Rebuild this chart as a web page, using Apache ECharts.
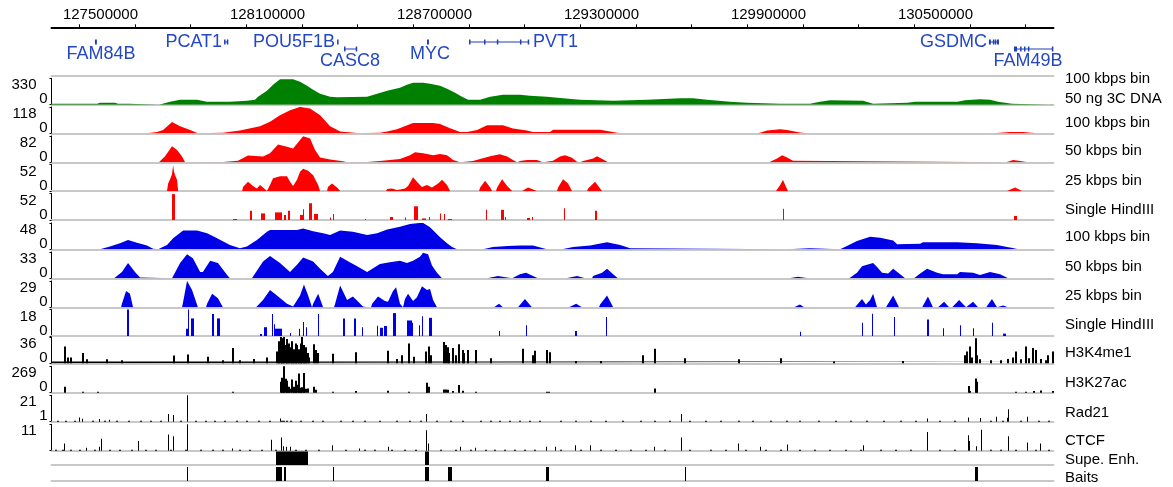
<!DOCTYPE html>
<html><head><meta charset="utf-8">
<script src="https://cdn.jsdelivr.net/npm/echarts@6/dist/echarts.min.js"></script>
<style>html,body{margin:0;padding:0;background:#fff}#c{width:1173px;height:487px}</style>
</head><body><div id="c"></div><script>
// ---------------- DATA (genomic positions in Mb) ----------------
const X_MIN = 127.2, X_MAX = 130.8;
const majorTicks = [127.5, 128.1, 128.7, 129.3, 129.9, 130.5];
const minorTicks = [127.3,127.5,127.7,127.9,128.1,128.3,128.5,128.7,128.9,129.1,129.3,129.5,129.7,129.9,130.1,130.3,130.5,130.7];

const geneNames = ['FAM84B','PCAT1','POU5F1B','CASC8','MYC','PVT1','GSDMC','FAM49B'];
const geneSpans = [[127.356,127.363],[127.820,127.831],[128.226,128.228],[128.251,128.294],[128.549,128.556],[128.700,128.912],[130.568,130.604],[130.658,130.795]];
const geneExons = [
  [[127.356,127.363]],
  [[127.820,127.821],[127.830,127.831]],
  [[128.226,128.228]],
  [[128.251,128.252],[128.293,128.294]],
  [[128.549,128.556]],
  [[128.700,128.701],[128.754,128.755],[128.800,128.803],[128.883,128.884],[128.911,128.912]],
  [[130.568,130.575],[130.582,130.584],[130.589,130.591],[130.597,130.604]],
  [[130.658,130.669],[130.680,130.681],[130.694,130.695],[130.708,130.709],[130.794,130.795]]
];

const trackMax = [330,118,82,52,52,48,33,29,18,36,269,21,11];
const trackMin = [0,0,0,0,0,0,0,0,0,0,0,1,0];
const trackNames = ['100 kbps bin','50 ng 3C DNA','100 kbps bin','50 kbps bin','25 kbps bin','Single HindIII','100 kbps bin','50 kbps bin','25 kbps bin','Single HindIII','H3K4me1','H3K27ac','Rad21','CTCF','Supe. Enh.','Baits'];

const green3C = [[127.198,12],[127.364,12],[127.374,25],[127.428,25],[127.439,12],[127.480,12],[127.482,0],[127.586,0],[127.590,12],[127.626,38],[127.662,62],[127.723,62],[127.759,38],[127.841,38],[127.902,50],[127.931,62],[127.942,100],[127.974,175],[127.996,250],[128.021,318],[128.068,318],[128.093,288],[128.118,238],[128.140,188],[128.165,138],[128.201,100],[128.226,92],[128.334,100],[128.370,138],[128.406,175],[128.452,212],[128.477,250],[128.499,275],[128.535,275],[128.560,262],[128.596,238],[128.621,200],[128.650,150],[128.675,100],[128.697,62],[128.740,62],[128.776,100],[128.822,125],[128.883,125],[128.919,112],[128.980,100],[129.038,81],[129.099,62],[129.218,50],[129.340,62],[129.458,81],[129.505,81],[129.555,62],[129.638,38],[129.699,25],[129.818,12],[129.925,12],[129.961,38],[129.997,56],[130.116,50],[130.152,12],[130.274,25],[130.303,38],[130.454,38],[130.482,56],[130.536,69],[130.572,62],[130.601,38],[130.651,12],[130.655,0],[130.786,0],[130.790,12],[130.800,12]];

const red100 = [[127.543,0],[127.579,6],[127.601,15],[127.633,50],[127.662,32],[127.698,15],[127.726,0],[127.816,2],[127.877,12],[127.949,32],[127.985,52],[128.021,81],[128.057,103],[128.093,118],[128.129,111],[128.165,81],[128.201,32],[128.237,8],[128.308,0],[128.334,1],[128.380,3],[128.406,8],[128.441,18],[128.499,46],[128.571,46],[128.596,42],[128.632,23],[128.668,6],[128.693,6],[128.729,15],[128.765,36],[128.822,36],[128.858,22],[128.908,13],[128.930,6],[128.991,6],[129.002,16],[129.171,16],[129.196,10],[129.243,0],[129.739,0],[129.771,12],[129.818,18],[129.843,15],[129.889,4],[129.915,0],[130.583,0],[130.644,6],[130.690,6],[130.741,0]];

const red50 = [[127.586,0],[127.590,2],[127.608,19],[127.633,50],[127.651,38],[127.669,18],[127.680,0],[127.816,1],[127.870,5],[127.906,21],[127.960,18],[127.985,28],[128.014,55],[128.046,48],[128.068,43],[128.093,69],[128.104,81],[128.129,74],[128.147,38],[128.165,15],[128.201,9],[128.247,3],[128.262,0],[128.334,1],[128.380,4],[128.416,7],[128.452,10],[128.488,22],[128.506,31],[128.535,28],[128.571,22],[128.596,26],[128.621,22],[128.643,7],[128.668,0],[128.714,4],[128.740,10],[128.776,19],[128.811,25],[128.837,18],[128.858,7],[128.873,0],[128.883,4],[128.908,7],[128.944,7],[128.966,0],[129.002,5],[129.027,18],[129.045,22],[129.070,14],[129.088,2],[129.099,0],[129.110,4],[129.146,12],[129.160,19],[129.182,9],[129.200,0],[129.778,0],[129.782,5],[129.807,12],[129.825,22],[129.843,15],[129.864,5],[129.871,0],[130.630,0],[130.633,4],[130.655,7],[130.680,4],[130.709,0]];

const red25 = [[127.615,0],[127.619,15],[127.626,23],[127.633,33],[127.637,51],[127.640,39],[127.644,31],[127.651,22],[127.655,0],[127.885,0],[127.888,8],[127.906,18],[127.924,10],[127.938,5],[127.949,12],[127.960,7],[127.974,0],[127.985,12],[127.996,25],[128.021,29],[128.046,29],[128.057,18],[128.068,10],[128.082,22],[128.093,38],[128.104,44],[128.122,40],[128.140,31],[128.158,12],[128.165,0],[128.190,0],[128.193,8],[128.208,15],[128.226,7],[128.237,0],[128.402,0],[128.406,4],[128.423,5],[128.441,2],[128.452,3],[128.470,5],[128.481,10],[128.499,27],[128.513,18],[128.531,8],[128.549,12],[128.567,7],[128.589,15],[128.603,22],[128.621,12],[128.632,0],[128.736,0],[128.740,7],[128.758,20],[128.776,7],[128.783,0],[128.797,0],[128.801,7],[128.819,23],[128.837,10],[128.855,0],[128.891,0],[128.894,2],[128.912,7],[128.944,0],[129.016,0],[129.020,7],[129.038,23],[129.056,15],[129.070,0],[129.124,0],[129.128,5],[129.153,18],[129.171,5],[129.178,0],[129.803,0],[129.807,2],[129.818,12],[129.828,22],[129.836,12],[129.846,0],[130.633,0],[130.662,7],[130.687,0]];

const redSingle = [[127.633,127.644,51],[127.852,127.866,2],[127.913,127.920,18],[127.953,127.967,13],[128.003,128.028,15],[128.035,128.043,10],[128.050,128.057,18],[128.093,128.104,10],[128.104,128.107,21],[128.125,128.136,33],[128.143,128.158,12],[128.201,128.204,5],[128.211,128.215,12],[128.326,128.330,2],[128.416,128.427,6],[128.470,128.474,5],[128.502,128.517,27],[128.531,128.546,3],[128.556,128.560,6],[128.596,128.600,13],[128.610,128.614,12],[128.625,128.639,2],[128.761,128.765,20],[128.815,128.826,20],[128.829,128.833,6],[128.908,128.919,4],[128.926,128.930,6],[129.041,129.045,23],[129.153,129.160,18],[129.828,129.832,22],[130.658,130.669,8]];

const blue100 = [[127.374,0],[127.410,5],[127.446,11],[127.475,17],[127.507,12],[127.543,7],[127.565,1],[127.583,0],[127.590,1],[127.615,8],[127.637,20],[127.673,34],[127.723,34],[127.759,29],[127.795,20],[127.841,8],[127.877,2],[127.902,5],[127.938,17],[127.974,32],[127.985,35],[128.082,35],[128.104,38],[128.140,33],[128.176,29],[128.201,26],[128.237,34],[128.283,32],[128.334,26],[128.370,29],[128.406,36],[128.452,41],[128.488,46],[128.524,48],[128.535,48],[128.560,40],[128.578,31],[128.596,22],[128.621,11],[128.639,4],[128.657,0],[128.750,0],[128.754,1],[128.786,4],[128.840,6],[128.883,7],[128.930,7],[128.980,0],[129.034,0],[129.074,4],[129.135,7],[129.196,13],[129.243,8],[129.279,2],[129.286,0],[129.843,0],[129.846,2],[129.925,2],[129.929,0],[130.033,0],[130.058,6],[130.094,15],[130.141,23],[130.177,21],[130.224,16],[130.238,9],[130.321,10],[130.331,13],[130.453,13],[130.525,11],[130.597,8],[130.633,4],[130.669,1],[130.673,0]];

const blue50 = [[127.425,0],[127.428,1],[127.453,8],[127.475,19],[127.500,8],[127.518,1],[127.522,0],[127.633,0],[127.637,2],[127.662,19],[127.687,30],[127.708,25],[127.734,8],[127.744,8],[127.770,22],[127.798,19],[127.831,4],[127.841,0],[127.920,0],[127.924,2],[127.960,21],[127.985,28],[128.021,19],[128.057,8],[128.082,17],[128.104,26],[128.140,21],[128.165,12],[128.193,3],[128.211,8],[128.237,27],[128.262,22],[128.298,15],[128.334,8],[128.380,18],[128.416,20],[128.452,22],[128.477,19],[128.499,22],[128.524,27],[128.535,32],[128.553,30],[128.567,16],[128.585,7],[128.603,0],[128.765,0],[128.768,1],[128.804,3],[128.837,1],[128.840,0],[128.855,0],[128.858,2],[128.883,5],[128.905,7],[128.930,3],[128.948,0],[129.049,0],[129.052,1],[129.088,3],[129.117,0],[129.142,0],[129.146,3],[129.178,7],[129.196,12],[129.218,5],[129.235,0],[129.850,0],[129.853,1],[129.882,2],[129.918,0],[130.066,0],[130.069,1],[130.094,7],[130.112,15],[130.130,17],[130.152,19],[130.166,14],[130.184,7],[130.206,6],[130.224,12],[130.249,5],[130.267,0],[130.299,0],[130.303,1],[130.321,6],[130.346,12],[130.382,7],[130.403,5],[130.454,5],[130.464,8],[130.511,7],[130.536,4],[130.572,8],[130.608,5],[130.637,0]];

const blue25 = [[127.450,0],[127.453,4],[127.468,18],[127.482,15],[127.493,0],[127.669,0],[127.673,6],[127.687,29],[127.705,19],[127.726,0],[127.755,0],[127.759,4],[127.777,15],[127.798,10],[127.816,0],[127.935,0],[127.938,1],[127.960,8],[127.985,19],[128.010,13],[128.046,4],[128.068,1],[128.093,13],[128.107,25],[128.122,13],[128.136,0],[128.140,4],[128.158,15],[128.176,0],[128.215,0],[128.219,4],[128.237,24],[128.262,8],[128.283,12],[128.319,1],[128.334,0],[128.348,0],[128.352,4],[128.373,12],[128.380,10],[128.398,7],[128.409,6],[128.427,18],[128.438,22],[128.452,4],[128.463,0],[128.467,0],[128.470,9],[128.481,15],[128.499,7],[128.513,11],[128.531,23],[128.549,19],[128.560,20],[128.571,8],[128.585,0],[128.790,0],[128.793,2],[128.808,4],[128.822,0],[128.876,0],[128.880,2],[128.901,9],[128.926,0],[129.059,0],[129.063,2],[129.085,4],[129.106,0],[129.167,0],[129.171,3],[129.196,13],[129.218,0],[129.868,0],[129.889,3],[129.904,0],[130.087,0],[130.091,1],[130.112,9],[130.126,3],[130.141,8],[130.152,15],[130.166,0],[130.198,0],[130.202,1],[130.224,13],[130.245,0],[130.328,0],[130.331,2],[130.349,12],[130.367,0],[130.385,0],[130.389,1],[130.407,6],[130.425,0],[130.436,0],[130.439,2],[130.461,8],[130.486,0],[130.489,0],[130.511,6],[130.529,0],[130.558,0],[130.561,2],[130.579,9],[130.597,0],[130.601,0],[130.619,2],[130.637,0]];

const blueSingle = [[127.471,127.478,18],[127.683,127.690,5],[127.690,127.694,18],[127.701,127.712,12],[127.777,127.784,15],[127.795,127.805,12],[127.949,127.956,1.4],[127.963,127.974,6],[127.992,127.996,15],[127.999,128.003,8],[128.003,128.028,5],[128.057,128.061,2],[128.089,128.093,5],[128.104,128.107,9.5],[128.114,128.118,6],[128.158,128.161,15],[128.247,128.255,12],[128.287,128.294,12],[128.316,128.319,6],[128.370,128.373,7],[128.380,128.391,5.6],[128.395,128.406,6.8],[128.427,128.438,15.6],[128.477,128.495,10.6],[128.495,128.499,9],[128.520,128.524,7.4],[128.531,128.535,13.5],[128.556,128.567,12.4],[128.808,128.811,3.4],[128.905,128.908,7.4],[129.081,129.088,3.4],[129.192,129.196,12.9],[129.889,129.893,2.9],[130.112,130.116,9],[130.148,130.152,15.1],[130.227,130.231,12.9],[130.346,130.353,11.3],[130.403,130.407,5.2],[130.464,130.468,7.4],[130.511,130.515,5.2],[130.579,130.583,9],[130.619,130.630,1.6]];

const h3k4me1Floor = [[127.2,2.4],[130.8,2.4]];
const h3k4me1 = [[127.245,23],[127.256,8],[127.267,8],[127.313,14],[127.324,5.5],[127.399,5.5],[127.453,4],[127.637,10.5],[127.690,12],[127.759,9],[127.813,4],[127.849,21],[127.877,4],[127.924,6],[127.974,8],[128.010,16],[128.014,25],[128.017,30],[128.021,36],[128.025,27],[128.028,34],[128.032,21],[128.035,36],[128.039,25],[128.043,33],[128.046,16],[128.050,27],[128.053,14],[128.057,22],[128.061,11],[128.064,30],[128.068,19],[128.071,16],[128.075,27],[128.078,12],[128.082,25],[128.086,11],[128.089,19],[128.093,14],[128.096,27],[128.100,36],[128.104,16],[128.107,25],[128.111,10],[128.114,22],[128.118,14],[128.122,8],[128.140,26],[128.147,18],[128.154,14],[128.211,13],[128.291,15],[128.406,17],[128.441,6],[128.459,11],[128.481,27],[128.499,9],[128.542,16],[128.553,23],[128.560,11],[128.607,29],[128.614,25],[128.621,22],[128.628,14],[128.639,21],[128.650,11],[128.664,26],[128.675,18],[128.682,14],[128.693,18],[128.722,18],[128.776,7],[128.891,20],[128.927,11],[128.937,17],[128.980,18],[128.991,15],[129.081,3],[129.171,3],[129.325,11],[129.365,20],[129.476,7],[129.667,5.5],[129.818,7],[130.008,2.5],[130.259,3],[130.482,11],[130.489,16],[130.497,23],[130.507,8],[130.518,34],[130.525,11],[130.533,5.5],[130.572,4],[130.608,4],[130.633,6],[130.651,8],[130.662,16],[130.680,5.5],[130.698,23],[130.709,7],[130.723,21],[130.734,18],[130.752,6],[130.770,4],[130.780,11],[130.795,16]];

const h3k27ac = [[127.245,61],[127.313,10],[127.367,10],[127.849,10],[128.021,111],[128.025,80],[128.028,152],[128.032,101],[128.035,269],[128.039,141],[128.043,91],[128.046,121],[128.050,60],[128.053,50],[128.057,40],[128.064,134],[128.068,61],[128.071,45],[128.075,121],[128.078,50],[128.082,80],[128.086,195],[128.089,70],[128.093,50],[128.096,35],[128.100,55],[128.104,202],[128.107,90],[128.111,40],[128.118,43],[128.140,61],[128.147,30],[128.211,10],[128.291,17],[128.406,20],[128.481,10],[128.546,101],[128.549,81],[128.553,61],[128.607,33],[128.614,33],[128.621,30],[128.639,17],[128.664,78],[128.675,20],[128.722,10],[128.980,10],[128.987,10],[129.365,43],[130.493,68],[130.500,17],[130.518,144],[130.522,111],[130.662,10],[130.698,10],[130.727,17],[130.752,23],[130.795,17]];

const rad21 = [[127.302,4.2],[127.313,3.3],[127.374,3],[127.410,2.5],[127.619,6.8],[127.637,6],[127.690,21],[128.021,3.5],[128.546,6.8],[129.465,6.8],[130.346,3.5],[130.493,4.2],[130.536,3.8],[130.594,4.8],[130.633,4],[130.637,10.5],[130.705,4.8]];
const rad21Dots = [127.223,127.252,127.284,127.346,127.389,127.435,127.475,127.518,127.554,127.590,127.662,127.719,127.755,127.784,127.820,127.863,127.899,127.942,127.985,128.028,128.035,128.043,128.057,128.093,128.136,128.172,128.237,128.280,128.323,128.380,128.438,128.488,128.524,128.582,128.632,128.675,128.740,128.776,128.811,128.847,128.883,128.919,128.955,129.027,129.081,129.135,129.189,129.250,129.315,129.368,129.422,129.494,129.548,129.602,129.667,129.717,129.782,129.839,129.889,129.954,130.015,130.069,130.127,130.191,130.249,130.303,130.392,130.446,130.572,130.615,130.680,130.745,130.781];
const rad21DotValue = 1.7;

const ctcf = [[127.245,3],[127.324,1.2],[127.371,1.6],[127.381,5],[127.511,4],[127.619,6.8],[127.637,6],[127.690,11],[127.852,0.9],[127.992,4.6],[128.028,5.5],[128.032,1.9],[128.046,1.6],[128.057,1.6],[128.211,2.3],[128.308,0.9],[128.409,1.6],[128.546,8.5],[128.553,3],[128.668,1.6],[128.725,1.2],[128.980,1.6],[129.009,1.6],[129.081,2.3],[129.135,2.3],[129.365,1.6],[129.465,5.5],[129.670,3],[129.746,1.6],[129.846,2.6],[130.116,2.3],[130.346,7.8],[130.493,6.4],[130.500,4],[130.522,1.9],[130.540,8.7],[130.637,6],[130.705,3.4],[130.755,3]];
const ctcfDots = [127.213,127.238,127.267,127.302,127.356,127.410,127.446,127.489,127.536,127.572,127.626,127.680,127.734,127.777,127.813,127.877,127.913,127.956,128.003,128.075,128.111,128.158,128.255,128.326,128.362,128.423,128.470,128.506,128.596,128.650,128.704,128.758,128.793,128.829,128.865,128.901,128.937,129.027,129.099,129.171,129.225,129.279,129.333,129.404,129.494,129.566,129.620,129.692,129.764,129.818,129.889,129.943,129.997,130.051,130.105,130.177,130.231,130.285,130.392,130.446,130.572,130.608,130.662,130.734,130.781];
const ctcfDotValue = 0.35;

const superEnhancers = [[128.007,128.122],[128.542,128.556]];
const baits = [[127.687,127.690],[128.007,128.028],[128.035,128.043],[128.211,128.215],[128.542,128.556],[128.625,128.639],[128.977,128.987],[129.476,129.479],[130.518,130.529]];

// ---------------- LAYOUT / STYLE ----------------
const FONT = '"Liberation Sans", Arial, Helvetica, sans-serif';
const GENE_COLOR = '#1d3fb8';
const GENE_TEXT = '#2447c4';
const GRAY = '#c8c8c8';
const RED = '#ff0000', BLUE = '#0000e6', GREEN = '#008000', BLACK = '#000000';
const LEFT = 51.5, WIDTH = 1002;
const trackBottom = [104.7,133.3,162.3,191,220,249.3,278.3,307.3,336,363.3,392.7,421.7,450.7,465,481];
const trackHeight = [26.4,26.4,26.4,26.4,26.4,26.4,26.4,26.4,26.4,26.4,26.4,26.4,26.4,13.5,14];
const trackNameY = [79,99.3,122.7,150.7,180.7,210,237.3,266.7,296,325,353.3,382.7,413.3,440.7,460,478.3];
const geneRow = [1,1,1,2,1,1,1,2];
const geneLabelSide = ['below','left','left','below','below','right','left','below'];
const geneLabelDx = [5,0,0,0,2,0,0,-5];
const EXON_H = 5;

// ---------------- BUILD ----------------
const grids = [{left: LEFT, width: WIDTH, top: 27.3, height: 48.7}];
trackBottom.forEach((b, k) => grids.push({left: LEFT, width: WIDTH, top: b - trackHeight[k], height: trackHeight[k]}));

const xAxes = [
  {gridIndex: 0, type: 'value', min: X_MIN, max: X_MAX, position: 'top',
   axisLine: {show: true, onZero: false, lineStyle: {color: BLACK, width: 2}},
   axisTick: {show: true, customValues: minorTicks, length: 3, inside: false, lineStyle: {color: BLACK, width: 1}},
   axisLabel: {show: true, customValues: majorTicks, formatter: v => '{l|' + String(Math.round(v * 1e6)) + '}',
               color: BLACK, fontSize: 15, fontFamily: FONT, margin: 5, align: 'right',
               rich: {l: {fontSize: 15, fontFamily: FONT, color: BLACK, padding: [0, -3, 0, 0]}}},
   splitLine: {show: false}},
  {gridIndex: 0, type: 'value', min: X_MIN, max: X_MAX, position: 'bottom',
   axisLine: {show: true, onZero: false, lineStyle: {color: GRAY, width: 2}},
   axisTick: {show: false}, axisLabel: {show: false}, splitLine: {show: false}}
];
const yAxes = [{gridIndex: 0, type: 'value', min: 0, max: 1, show: false}];

trackBottom.forEach((b, k) => {
  const gi = k + 1;
  xAxes.push({gridIndex: gi, type: 'value', min: X_MIN, max: X_MAX, position: 'bottom',
    axisLine: {show: true, onZero: false, lineStyle: {color: GRAY, width: 2}},
    axisTick: {show: false}, axisLabel: {show: false}, splitLine: {show: false}});
  if (k < trackMax.length) {
    const mx = trackMax[k], mn = trackMin[k];
    const showMin = k !== 12;
    yAxes.push({gridIndex: gi, type: 'value', min: mn, max: mx, interval: mx - mn,
      axisLine: {show: true, onZero: false, lineStyle: {color: BLACK, width: 1}},
      axisTick: {show: true, length: 2, lineStyle: {color: BLACK, width: 1}},
      splitLine: {show: false},
      axisLabel: {show: true, margin: 4, showMinLabel: true, showMaxLabel: true,
        formatter: v => Math.abs(v - mx) < 1e-9 ? '{t|' + mx + '}' : (Math.abs(v - mn) < 1e-9 && showMin ? '{b|' + mn + '}' : ''),
        rich: {
          t: {fontSize: 15, fontFamily: FONT, color: BLACK, padding: [14, 11, 0, 0]},
          b: {fontSize: 15, fontFamily: FONT, color: BLACK, padding: [0, 0, 11, 0]}
        }}});
  } else {
    yAxes.push({gridIndex: gi, type: 'value', min: 0, max: 1, show: false});
  }
});

const series = [];
function areaSeries(k, data, color) {
  series.push({type: 'line', xAxisIndex: k + 2, yAxisIndex: k + 1, data, symbol: 'none', showSymbol: false,
    lineStyle: {width: 0}, areaStyle: {color, opacity: 1}, silent: true, z: 3, animation: false});
}
function barSeries(k, data, color) {
  series.push({type: 'custom', xAxisIndex: k + 2, yAxisIndex: k + 1, data, silent: true, z: 3,
    renderItem: (params, api) => {
      const cs = params.coordSys;
      const a = api.coord([api.value(0), api.value(2)]);
      const bx = api.coord([api.value(1), api.value(2)])[0];
      const base = cs.y + cs.height;
      const top = Math.max(a[1], cs.y);
      const x0 = Math.round(a[0]);
      const w = Math.max(Math.round(bx) - x0, 1);
      return {type: 'rect', shape: {x: x0, y: top, width: w, height: base - top}, style: {fill: color}};
    }});
}
function spikeSeries(k, data, color, w) {
  series.push({type: 'custom', xAxisIndex: k + 2, yAxisIndex: k + 1, data, silent: true, z: 3,
    renderItem: (params, api) => {
      const cs = params.coordSys;
      const p = api.coord([api.value(0), api.value(1)]);
      const base = cs.y + cs.height;
      const top = Math.min(Math.max(p[1], cs.y), base - 1);
      return {type: 'rect', shape: {x: Math.floor(p[0]), y: top, width: w, height: base - top}, style: {fill: color}};
    }});
}
function blockSeries(k, data) {
  series.push({type: 'custom', xAxisIndex: k + 2, yAxisIndex: k + 1, data, silent: true, z: 3,
    renderItem: (params, api) => {
      const cs = params.coordSys;
      const a = Math.round(api.coord([api.value(0), 1])[0]);
      const b = Math.round(api.coord([api.value(1), 1])[0]);
      return {type: 'rect', shape: {x: a, y: cs.y, width: Math.max(b - a, 1), height: cs.height}, style: {fill: BLACK}};
    }});
}

areaSeries(0, green3C, GREEN);
areaSeries(1, red100, RED);
areaSeries(2, red50, RED);
areaSeries(3, red25, RED);
barSeries(4, redSingle, RED);
areaSeries(5, blue100, BLUE);
areaSeries(6, blue50, BLUE);
areaSeries(7, blue25, BLUE);
barSeries(8, blueSingle, BLUE);
areaSeries(9, h3k4me1Floor, BLACK);
spikeSeries(9, h3k4me1, BLACK, 2);
spikeSeries(10, h3k27ac, BLACK, 2);
spikeSeries(11, rad21Dots.map(p => [p, rad21DotValue]), BLACK, 2);
spikeSeries(11, rad21, BLACK, 1);
spikeSeries(12, ctcfDots.map(p => [p, ctcfDotValue]), BLACK, 2);
spikeSeries(12, ctcf, BLACK, 1);
blockSeries(13, superEnhancers);
blockSeries(14, baits);

// genes
series.push({type: 'custom', xAxisIndex: 0, yAxisIndex: 0, data: geneNames.map((n, i) => [i]), silent: true, z: 3,
  renderItem: (params, api) => {
    const i = api.value(0);
    const cs = params.coordSys;
    const yc = cs.y + (geneRow[i] === 1 ? 14.7 : 21.7);
    const xs = api.coord([geneSpans[i][0], 0])[0];
    const xe = api.coord([geneSpans[i][1], 0])[0];
    const ch = [];
    if (xe - xs > 2) ch.push({type: 'line', shape: {x1: xs, y1: yc, x2: xe, y2: yc}, style: {stroke: GENE_COLOR, lineWidth: 1}});
    geneExons[i].forEach(e => {
      const a = api.coord([e[0], 0])[0], b = api.coord([e[1], 0])[0];
      ch.push({type: 'rect', shape: {x: a, y: yc - EXON_H / 2, width: Math.max(b - a, 1.5), height: EXON_H}, style: {fill: GENE_COLOR}});
    });
    let tx, ty, al;
    const side = geneLabelSide[i];
    if (side === 'left') { tx = xs - 2; ty = yc; al = 'right'; }
    else if (side === 'right') { tx = xe + 5; ty = yc; al = 'left'; }
    else { tx = (xs + xe) / 2 + geneLabelDx[i]; ty = yc + 12; al = 'center'; }
    ch.push({type: 'text', style: {text: geneNames[i], x: tx, y: ty, align: al, verticalAlign: 'middle', fill: GENE_TEXT, font: '18px ' + FONT}});
    return {type: 'group', children: ch};
  }});

const graphic = trackNames.map((t, i) => ({type: 'text', x: 1065, y: trackNameY[i], silent: true,
  style: {text: t, font: '15px ' + FONT, fill: BLACK, verticalAlign: 'middle', align: 'left'}}));

const chart = echarts.init(document.getElementById('c'), null, {renderer: 'canvas', devicePixelRatio: 1});
chart.setOption({animation: false, backgroundColor: '#ffffff', grid: grids, xAxis: xAxes, yAxis: yAxes, series, graphic,
  textStyle: {fontFamily: FONT}});
</script></body></html>
